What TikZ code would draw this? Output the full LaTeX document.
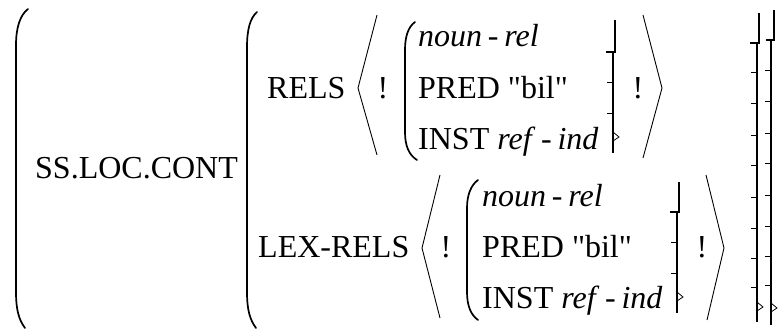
\documentclass[tikz,border=0pt]{standalone}
\usepackage{fontspec}
\setmainfont{Liberation Serif}
\usetikzlibrary{positioning,calc}

\begin{document}
\begin{tikzpicture}[
    x=1pt, y=-1pt,
    txt/.style={inner sep=0pt, anchor=base west, font=\fontsize{32}{38}\selectfont},
    bang/.style={inner sep=0pt, anchor=base, font=\fontsize{32}{38}\selectfont},
    paren/.style={line width=1.7pt, line cap=round},
    angl/.style={line width=0.9pt},
    brk/.style={line width=1.7pt},
    tck/.style={line width=0.8pt}
]
    \useasboundingbox (0,0) rectangle (778,329);

    % labels
    \node [txt] (ss) at (35,178) {SS.LOC.CONT};
    \node [txt] (rels) at (267,98) {RELS};
    \node [txt] (lexrels) at (258,257) {LEX-RELS};

    % upper relation
    \node [bang] (bangAl) at (383,98) {!};
    \node [txt] (nounA) at (418,47) {\textit{noun}\hspace{.18em}-\hspace{.18em}\textit{rel}};
    \node [txt] (predA) at (418,98) {PRED \textquotedbl bil\textquotedbl};
    \node [txt] (instA) at (418,149) {INST \textit{ref}\hspace{.18em}-\hspace{.18em}\textit{ind}};
    \node [bang] (bangAr) at (638,98) {!};

    % lower relation
    \node [bang] (bangBl) at (446,257) {!};
    \node [txt] (nounB) at (482,206) {\textit{noun}\hspace{.18em}-\hspace{.18em}\textit{rel}};
    \node [txt] (predB) at (482,257) {PRED \textquotedbl bil\textquotedbl};
    \node [txt] (instB) at (482,308) {INST \textit{ref}\hspace{.18em}-\hspace{.18em}\textit{ind}};
    \node [bang] (bangBr) at (702,257) {!};

    % left parens
    \draw [paren] (28,9) .. controls (20,15) and (16,28) .. (16,45) -- (16,292) .. controls (16,310) and (19,320) .. (25,328);
    \draw [paren] (257,12) .. controls (250,18) and (247,30) .. (247,47) -- (247,292) .. controls (247,310) and (250,320) .. (256,328);
    \draw [paren] (415,22) .. controls (408,27) and (405,37) .. (405,50) -- (405,132) .. controls (405,146) and (409,155) .. (417,160);
    \draw [paren] (478,180) .. controls (471,185) and (467,195) .. (467,208) -- (467,292) .. controls (467,306) and (471,315) .. (478,320);

    % angle brackets
    \draw [angl] (377,15) -- (358,88) -- (377,155);
    \draw [angl] (643,15) -- (662,88) -- (643,158);
    \draw [angl] (440,175) -- (422,248) -- (440,318);
    \draw [angl] (706,175) -- (724,248) -- (707,320);

    % right brackets (upper inner)
    \draw [brk] (615,20) -- (615,52) -- (606,52);
    \draw [brk] (613,52) -- (613,153);
    \foreach \y in {82,113} \draw [tck] (607,\y) -- (613,\y);
    \draw [tck] (613,132) -- (619,137) -- (613,141);

    % right brackets (lower inner)
    \draw [brk] (679,182) -- (679,212) -- (670,212);
    \draw [brk] (677,212) -- (677,313);
    \foreach \y in {242,273} \draw [tck] (671,\y) -- (677,\y);
    \draw [tck] (677,292) -- (683,297) -- (677,301);

    % right brackets (outer)
    \draw [brk] (759,13) -- (759,43) -- (750,43);
    \draw [brk] (757,43) -- (757,322);
    \foreach \y in {72,103,135,165,197,228,258,287} \draw [tck] (751,\y) -- (757,\y);
    \draw [tck] (757,302) -- (763,307) -- (757,311);

    \draw [brk] (774,10) -- (774,40) -- (766,40);
    \draw [brk] (771,40) -- (771,325);
    \foreach \y in {70,101,133,163,195,226,256,285} \draw [tck] (765,\y) -- (771,\y);
    \draw [tck] (771,303) -- (777,308) -- (771,312);
\end{tikzpicture}
\end{document}
